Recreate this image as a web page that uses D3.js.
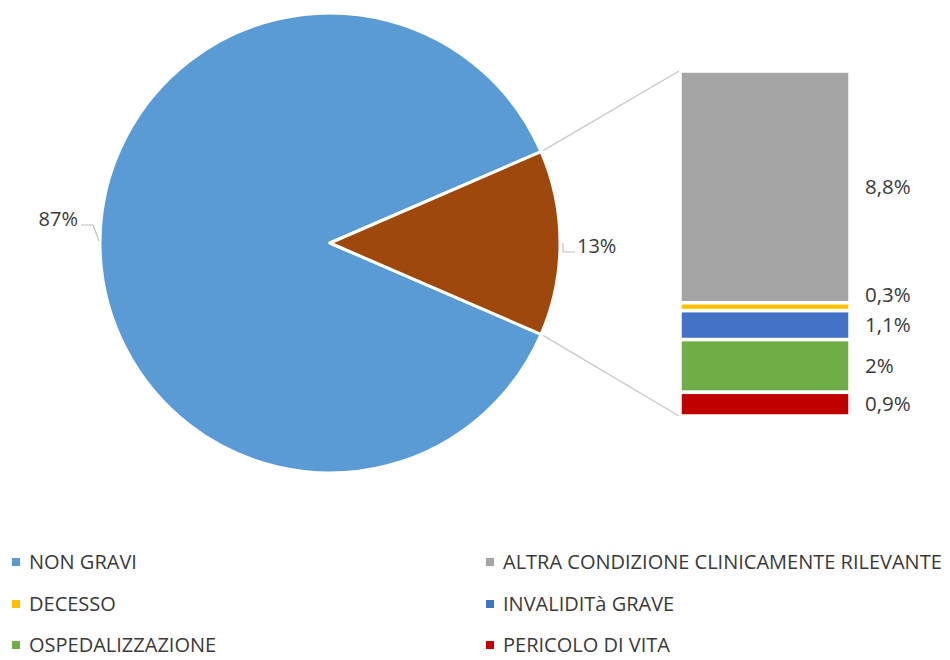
<!DOCTYPE html>
<html>
<head>
<meta charset="utf-8">
<script src="https://cdn.jsdelivr.net/npm/d3@7"></script>
<style>
  html, body { margin: 0; padding: 0; background: #fff; }
  svg text { font-family: "Open Sans", "Noto Sans", sans-serif; fill: #3a3a3a; }
</style>
</head>
<body>
<svg id="chart" width="950" height="660"></svg>
<script>
// Main pie: non-serious vs serious reports
const pieCategories = ["NON GRAVI", "GRAVI"];
const pieValues = [87, 13];
const pieColors = ["#5B9BD5", "#9E480E"];

// Breakdown of the serious share (stacked bar)
const barCategories = ["ALTRA CONDIZIONE CLINICAMENTE RILEVANTE", "DECESSO", "INVALIDITà GRAVE", "OSPEDALIZZAZIONE", "PERICOLO DI VITA"];
const barValues = [8.8, 0.3, 1.1, 2, 0.9];
const barColors = ["#A5A5A5", "#FFC000", "#4472C4", "#70AD47", "#C00000"];

// Legend entries, laid out row by row in two columns
const legendLabels = ["NON GRAVI", "ALTRA CONDIZIONE CLINICAMENTE RILEVANTE", "DECESSO", "INVALIDITà GRAVE", "OSPEDALIZZAZIONE", "PERICOLO DI VITA"];
const legendColors = ["#5B9BD5", "#A5A5A5", "#FFC000", "#4472C4", "#70AD47", "#C00000"];

const fmt = v => d3.format("~g")(v).replace(".", ",") + "%";
const FS = 20;

const svg = d3.select("#chart");

// ---- Pie ----
const cx = 330, cy = 243, R = 230;
const half = Math.PI * pieValues[1] / 100;
const pie = d3.pie().sort(null)
  .startAngle(Math.PI / 2 + half)
  .endAngle(Math.PI / 2 + half + 2 * Math.PI);
const arcs = pie(pieValues);
const arc = d3.arc().innerRadius(0).outerRadius(R);

const pg = svg.append("g").attr("transform", `translate(${cx},${cy})`);
pg.selectAll("path").data(arcs).join("path")
  .attr("d", arc)
  .attr("fill", (d, i) => pieColors[i])
  .attr("stroke", "#fff")
  .attr("stroke-width", 3)
  .attr("stroke-linejoin", "round");

const pt = (a, r) => [cx + r * Math.sin(a), cy - r * Math.cos(a)];

// ---- Stacked bar ----
const barX = 680, barW = 170, barTop = 71, barBottom = 416;
const total = d3.sum(barValues);
const y = d3.scaleLinear().domain([0, total]).range([barTop, barBottom]);
const cum = [];
barValues.reduce((acc, v, i) => { cum[i] = acc; return acc + v; }, 0);

svg.append("g").selectAll("rect").data(barValues).join("rect")
  .attr("x", barX)
  .attr("width", barW)
  .attr("y", (d, i) => y(cum[i]))
  .attr("height", d => y(d) - y(0))
  .attr("fill", (d, i) => barColors[i])
  .attr("stroke", "#fff")
  .attr("stroke-width", 3.5);

// Connector lines from the small slice to the bar
const brown = arcs[1];
const pTop = pt(brown.startAngle, R);
const pBot = pt(brown.endAngle, R);
svg.append("line").attr("x1", pTop[0] + 2).attr("y1", pTop[1] - 1)
  .attr("x2", barX - 1).attr("y2", y(0))
  .attr("stroke", "#C8C8C8").attr("stroke-width", 1.3);
svg.append("line").attr("x1", pBot[0] + 2).attr("y1", pBot[1] + 1)
  .attr("x2", barX - 1).attr("y2", y(total))
  .attr("stroke", "#C8C8C8").attr("stroke-width", 1.3);

// Bar value labels (small slivers nudged up to stay clear of neighbours)
const labelShift = [0, -12, 0, 0, 0];
svg.append("g").selectAll("text").data(barValues).join("text")
  .attr("x", 865)
  .attr("y", (d, i) => (y(cum[i]) + y(cum[i] + d)) / 2 + labelShift[i])
  .attr("dy", "0.35em")
  .attr("font-size", FS + 0.5)
  .text(d => fmt(d));

// Pie labels with short leader lines
svg.append("text").attr("x", 78).attr("y", 219).attr("dy", "0.35em")
  .attr("text-anchor", "end").attr("font-size", FS).text(fmt(pieValues[0]));
svg.append("polyline")
  .attr("points", "81,225 93,225 99,241")
  .attr("fill", "none").attr("stroke", "#BFBFBF").attr("stroke-width", 1.2);

svg.append("text").attr("x", 577).attr("y", 246).attr("dy", "0.35em")
  .attr("font-size", FS).text(fmt(pieValues[1]));
svg.append("polyline")
  .attr("points", "563,243 563,252 575,252")
  .attr("fill", "none").attr("stroke", "#BFBFBF").attr("stroke-width", 1.2);

// ---- Legend ----
const colX = [[12, 29], [486, 503]];
const rowY = [562, 604, 645];
const lg = svg.append("g").selectAll("g").data(legendLabels).join("g")
  .attr("transform", (d, i) => `translate(0,${rowY[Math.floor(i / 2)]})`);
lg.append("rect")
  .attr("x", (d, i) => colX[i % 2][0]).attr("y", -4)
  .attr("width", 8).attr("height", 8)
  .attr("fill", (d, i) => legendColors[i]);
lg.append("text")
  .attr("x", (d, i) => colX[i % 2][1]).attr("dy", "0.35em")
  .attr("font-size", FS)
  .text(d => d);
</script>
</body>
</html>
